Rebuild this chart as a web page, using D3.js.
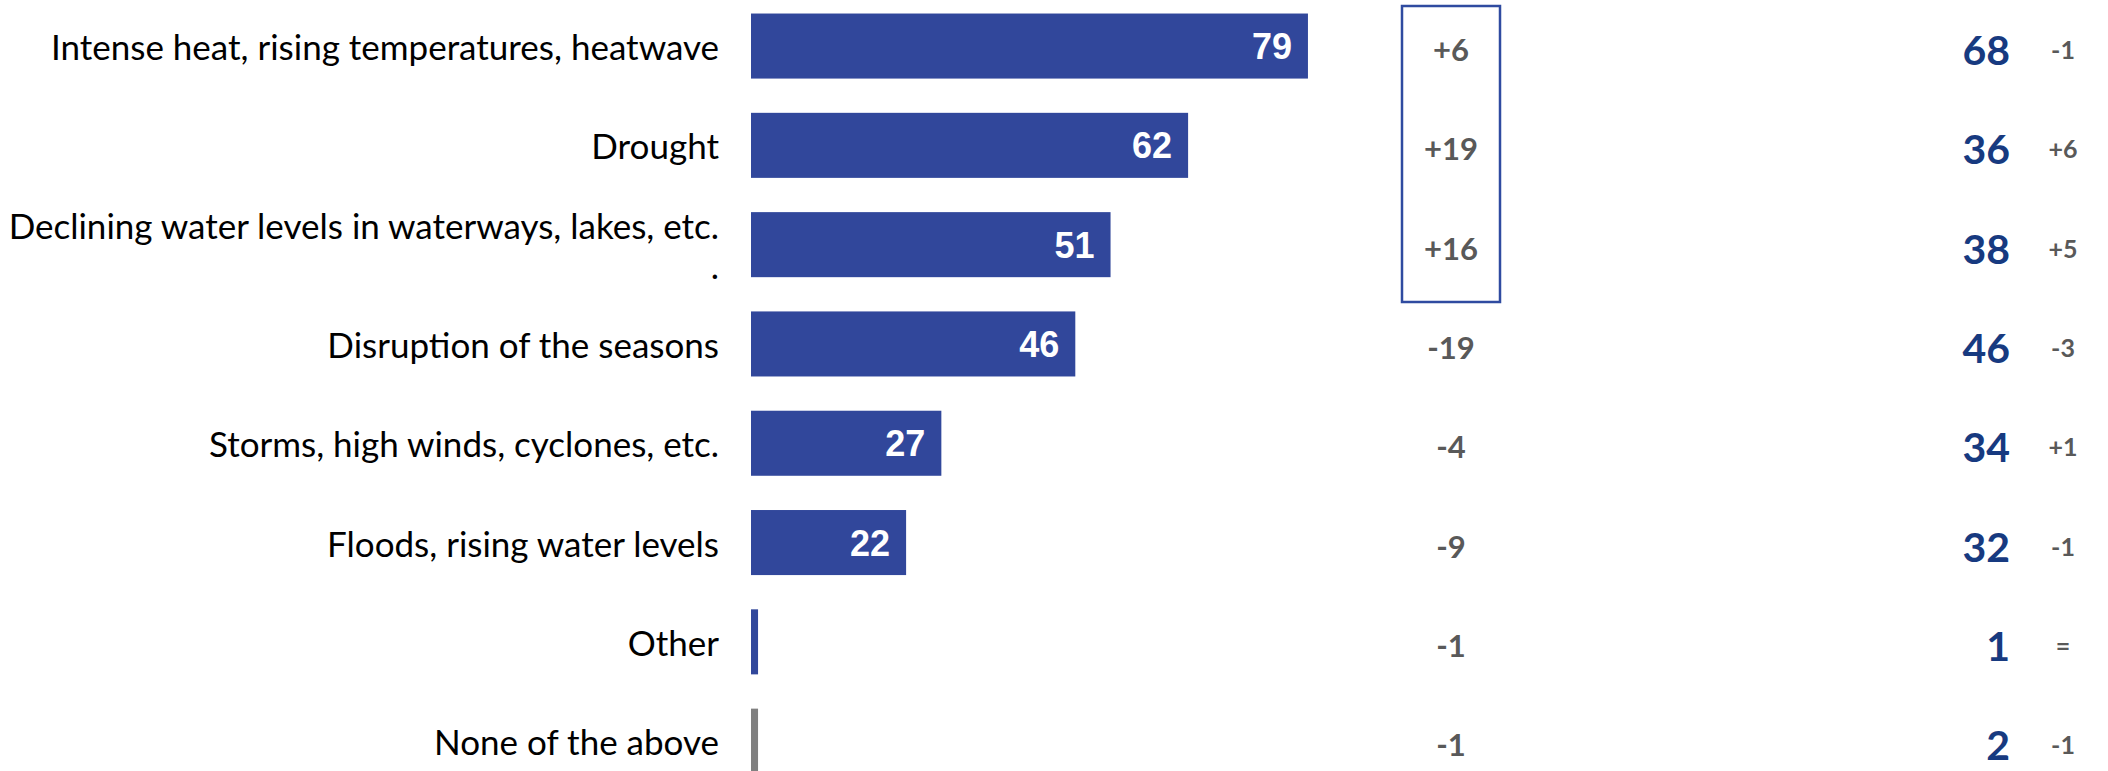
<!DOCTYPE html>
<html>
<head>
<meta charset="utf-8">
<script src="https://cdn.jsdelivr.net/npm/d3@7"></script>
<style>
  html, body { margin: 0; padding: 0; background: #ffffff; }
  svg { display: block; }
</style>
</head>
<body>
<svg id="chart" width="2108" height="771"></svg>
<script>
// Weather phenomena observed – share of respondents (%)
const categories = [
  "Intense heat, rising temperatures, heatwave",
  "Drought",
  "Declining water levels in waterways, lakes, etc.\n.",
  "Disruption of the seasons",
  "Storms, high winds, cyclones, etc.",
  "Floods, rising water levels",
  "Other",
  "None of the above"
];
const shares = [79, 62, 51, 46, 27, 22, 1, 1];
const shareChanges = [6, 19, 16, -19, -4, -9, -1, -1];
const comparisonShares = [68, 36, 38, 46, 34, 32, 1, 2];
const comparisonChanges = [-1, 6, 5, -3, 1, -1, 0, -1];

const svg = d3.select("#chart");

const BLUE = "#31479b";
const GREY_BAR = "#808080";
const NAVY = "#173a80";
const GREY_TEXT = "#595959";

const x = d3.scaleLinear().domain([0, 100]).range([751, 1456]);
const y = d3.scaleBand()
  .domain(categories)
  .range([-3.6, 790.8])
  .paddingInner(0.345)
  .paddingOuter(0.1725);

const signed = v => v > 0 ? "+" + v : v < 0 ? "-" + Math.abs(v) : "=";

const rows = categories.map((c, i) => ({
  cat: c,
  lines: c.split("\n"),
  share: shares[i],
  change: shareChanges[i],
  comp: comparisonShares[i],
  compChange: comparisonChanges[i],
  isNone: i === categories.length - 1
}));
const mid = d => y(d.cat) + y.bandwidth() / 2;

// Category labels (a label may run over two lines)
const labelX = 719;
const labels = svg.append("g").selectAll("text")
  .data(rows).join("text")
  .attr("text-anchor", "end")
  .attr("font-family", "Lato, 'Open Sans', sans-serif")
  .attr("font-size", 35)
  .attr("fill", "#000");
labels.each(function(d) {
  const n = d.lines.length;
  const lh = 40;
  d3.select(this).selectAll("tspan")
    .data(d.lines).join("tspan")
    .attr("x", labelX)
    .attr("y", (l, j) => mid(d) + 14 + (j - (n - 1) / 2) * lh)
    .text(l => l);
});

// Bars
svg.append("g").selectAll("rect")
  .data(rows).join("rect")
  .attr("x", x(0))
  .attr("y", d => y(d.cat))
  .attr("width", d => x(d.share) - x(0))
  .attr("height", y.bandwidth())
  .attr("fill", d => d.isNone ? GREY_BAR : BLUE);

// Values inside bars (only where the bar is wide enough)
svg.append("g").selectAll("text")
  .data(rows.filter(d => d.share >= 10)).join("text")
  .attr("x", d => x(d.share) - 16)
  .attr("y", d => mid(d) + 13)
  .attr("text-anchor", "end")
  .attr("font-family", "'Liberation Sans', Arial, sans-serif")
  .attr("font-weight", "bold")
  .attr("font-size", 36)
  .attr("fill", "#ffffff")
  .text(d => d.share);

// Change column
svg.append("g").selectAll("text")
  .data(rows).join("text")
  .attr("x", 1451)
  .attr("y", d => mid(d) + 15)
  .attr("text-anchor", "middle")
  .attr("font-family", "Lato, sans-serif")
  .attr("font-weight", "bold")
  .attr("font-size", 31)
  .attr("fill", GREY_TEXT)
  .text(d => signed(d.change));

// Frame around the three leading rows
svg.append("rect")
  .attr("x", 1402)
  .attr("y", 6)
  .attr("width", 98)
  .attr("height", 296)
  .attr("fill", "none")
  .attr("stroke", "#2f4ba0")
  .attr("stroke-width", 2.5);

// Comparison column
svg.append("g").selectAll("text")
  .data(rows).join("text")
  .attr("x", 2010)
  .attr("y", d => mid(d) + 19)
  .attr("text-anchor", "end")
  .attr("font-family", "Lato, sans-serif")
  .attr("font-weight", "bold")
  .attr("font-size", 41)
  .attr("fill", NAVY)
  .text(d => d.comp);

svg.append("g").selectAll("text")
  .data(rows).join("text")
  .attr("x", 2063)
  .attr("y", d => mid(d) + 13)
  .attr("text-anchor", "middle")
  .attr("font-family", "Lato, sans-serif")
  .attr("font-weight", "bold")
  .attr("font-size", 25)
  .attr("fill", GREY_TEXT)
  .text(d => signed(d.compChange));
</script>
</body>
</html>
